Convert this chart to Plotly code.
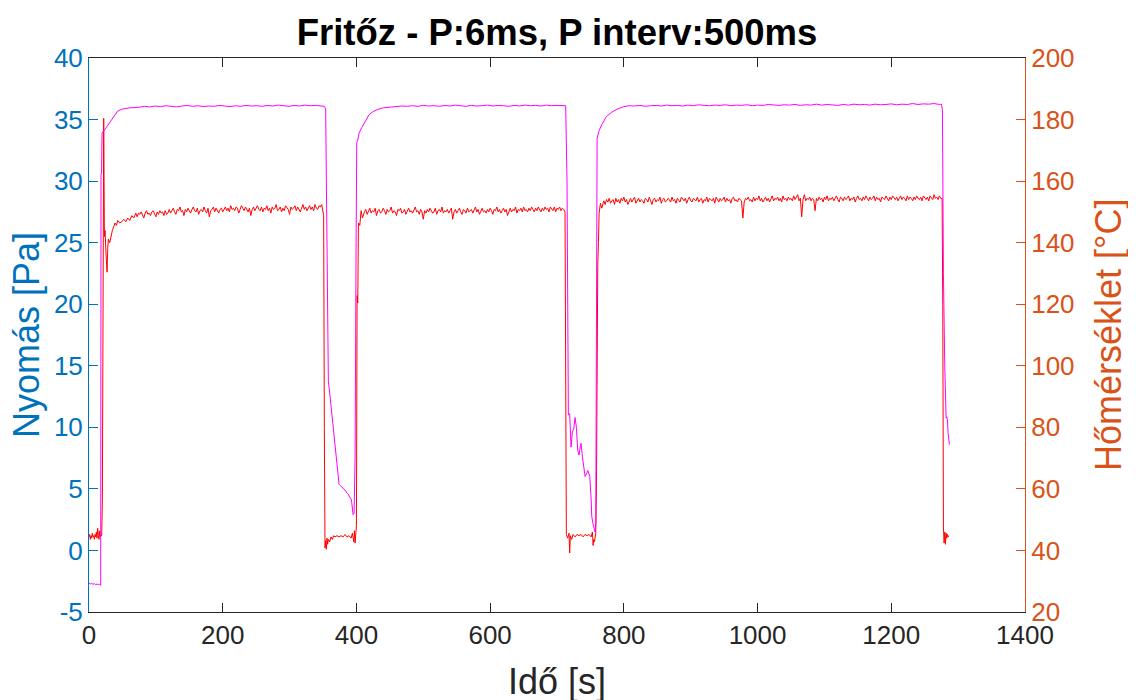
import plotly.graph_objects as go

# ---------------- data ----------------
x_ticks = [0, 200, 400, 600, 800, 1000, 1200, 1400]
y_left_ticks = [-5, 0, 5, 10, 15, 20, 25, 30, 35, 40]
y_right_ticks = [20, 40, 60, 80, 100, 120, 140, 160, 180, 200]

SAMPLE_STEP = 2  # s, spacing of the plateau readings below

# red trace, left axis: Nyomás [Pa]  (time s, value)
red_start = [(0,1.1),(1,1.3),(2,0.9),(3,1.2),(4,1.0),(5,1.4),(6,1.1),(7,1.2),(8,0.9),(9,1.3),
             (10,1.1),(11,1.5),(12,1.0),(13,1.8),(14,1.2),(15,0.9),(16,1.6),(17,1.1),(18,1.3),(19,1.2),
             (20,4.0),(21,20.0),(22,35.1),(23,25.5),(24,26.0),(25.5,24.0),(27,22.6),(28,24.5),(29,25.3),
             (31,25.0),(33,25.6),(35,26.0),(37,26.3),(39,26.6),(41,26.4),(43,26.8),(46,26.6),(49,26.7),
             (52,26.9),(55,26.7),(58,27.0),(61,26.8),(64,27.2),(67,27.0),(70,27.4)]
# plateau readings every SAMPLE_STEP s, starting at the given time
red_plateau1_t0 = 72
red_plateau1 = [27.1,27.4,27.3,27.5,27.2,27.0,27.4,27.6,27.3,27.4,27.2,27.5,27.6,27.4,27.1,27.5,27.3,27.6,27.4,27.5,
                27.2,27.6,27.3,27.4,27.7,
                27.4,27.6,27.8,27.5,27.3,27.7,27.6,27.9,27.5,27.6,27.2,27.7,27.5,27.8,27.6,27.4,27.7,27.9,27.6,27.5,
                27.8,27.3,27.6,27.7,27.5,27.9,27.6,27.4,27.8,27.1,27.6,27.7,27.9,27.5,27.8,27.6,27.4,27.7,27.8,27.5,
                27.7,27.9,27.6,27.8,27.5,28.0,27.7,27.8,27.6,27.9,27.8,27.4,27.7,28.0,27.8,27.6,27.9,27.7,27.5,27.8,
                27.2,27.7,27.9,27.6,27.8,28.0,27.7,27.6,27.9,27.5,27.8,27.7,28.0,27.6,27.8,27.4,27.9,27.7,27.8,28.1,
                27.6,27.7,27.9,27.5,27.8,27.6,28.0,27.8,27.7,27.3,27.9,27.7,27.8,28.0,27.6,27.9,27.7,27.5,27.8,28.1,
                27.7,27.9,27.6,27.8,28.0,27.7,27.9,27.6,28.1,27.8,27.7,28.0,27.9,28.1,27.5]
red_dip1 = [(351,27.2),(352,10.0),(353,0.2),(354,0.8),(355,0.1),(356,1.0),(357,0.5),(358,0.9),(360,0.7),
            (362,1.1),(364,0.9),(366,1.2),(368,1.1),(371,1.2),(374,1.1),(377,1.2),(380,1.1),(383,1.3),
            (386,1.1),(389,1.2),(392,1.0),(394,1.4),(396,0.7),(397,1.6),(398,0.6),(399,1.3),(400,2.0),
            (401,20.7),(402,20.1),(403,26.6),(405,26.4),(407,27.6),(409,27.0)]
red_plateau2_t0 = 412
red_plateau2 = [27.5,27.7,27.3,27.6,27.8,27.4,27.6,27.5,27.8,27.2,27.6,27.7,27.4,27.5,27.8,27.6,27.3,27.7,27.5,27.6,
                27.9,27.4,27.6,27.5,27.2,27.7,27.6,27.8,27.4,27.5,27.7,27.3,27.6,27.8,27.5,27.6,27.4,27.7,27.9,27.5,
                27.6,27.3,27.7,27.5,26.9,27.6,27.4,27.7,27.5,27.8,27.6,27.4,27.5,27.8,27.3,27.6,27.7,27.5,27.9,27.4,
                27.6,27.5,27.7,27.4,27.6,27.8,26.9,27.5,27.7,27.4,27.6,27.8,27.5,27.3,27.7,27.6,27.4,27.8,27.5,27.6,
                27.7,27.4,27.6,27.9,27.5,27.7,27.3,27.6,27.8,27.5,27.6,27.4,27.7,27.5,27.8,27.6,27.3,27.7,27.6,27.9,
                27.5,27.7,27.4,27.6,27.8,27.5,27.7,27.2,27.6,27.8,27.5,27.7,27.6,27.9,27.4,27.7,27.6,27.8,27.5,27.9,
                27.6,27.7,27.5,27.8,27.6,27.9,27.7,27.5,27.8,27.6,27.9,27.7,27.5,27.8,27.6,27.9,27.7,27.8,27.5,27.9,
                27.7,27.6,27.9,27.5,27.8,27.7,27.9,27.6,27.8,27.7]
red_dip2 = [(712,27.5),(713,10.0),(714,1.3),(716,1.0),(718,1.4),(719,-0.2),(720,1.2),(722,0.9),(724,1.3),
            (727,1.1),(730,1.3),(733,1.2),(736,1.3),(739,1.1),(742,1.3),(745,1.2),(748,1.3),(751,1.1),
            (753,1.5),(754,0.4),(755,0.9),(756,0.7),(757,1.1),(758,1.4),(759,5.0),(760,22.8),(761,23.2),
            (762,25.0),(763,27.4),(765,28.2),(767,27.8)]
red_plateau3_t0 = 770
red_plateau3 = [28.4,28.1,28.5,28.3,28.6,28.2,28.4,28.5,28.1,28.6, 28.3,28.5,28.2,28.6,28.4,28.7,28.3,28.5,28.1,28.4,
                28.6,28.3,28.5,28.7,28.2,28.4,28.6,28.3,28.5,28.4, 28.2,28.6,28.5,28.3,28.7,28.4,28.1,28.5,28.6,28.3,
                28.5,28.4,28.7,28.2,28.5,28.6,28.3,28.4,28.6,28.5, 28.3,28.7,28.4,28.5,28.2,28.6,28.4,28.3,28.7,28.5,
                28.4,28.6,28.2,28.5,28.7,28.4,28.3,28.6,28.5,28.4, 28.7,28.3,28.5,28.6,28.2,28.5,28.4,28.7,28.3,28.6,
                28.5,28.4,28.6,28.2,28.7,28.5,28.3,28.6,28.4,28.5, 28.7,28.3,28.6,28.4,28.5,28.2,28.6,28.7,28.4,28.5,
                28.3,28.6,28.5,28.4,27.0,28.3,28.6,28.5,28.7,28.4, 28.5,28.3,28.7,28.4,28.6,28.5,28.8,28.4,28.6,28.3,
                28.5,28.7,28.4,28.6,28.3,28.5,28.8,28.4,28.6,28.5, 28.7,28.4,28.6,28.3,28.8,28.5,28.6,28.4,28.7,28.5,
                28.6,28.4,28.8,28.5,28.7,28.9,28.4,28.6,27.1,28.5, 28.9,28.4,28.6,28.5,28.7,28.4,28.6,28.5,27.6,28.6,
                28.4,28.7,28.5,28.6,28.3,28.7,28.5,28.8,28.4,28.6, 28.5,28.7,28.4,28.6,28.8,28.5,28.3,28.7,28.6,28.4,
                28.7,28.5,28.6,28.8,28.4,28.6,28.5,28.7,28.3,28.6, 28.8,28.5,28.6,28.4,28.7,28.5,28.8,28.6,28.4,28.7,
                28.5,28.6,28.8,28.4,28.7,28.5,28.6,28.3,28.7,28.6, 28.5,28.8,28.6,28.4,28.7,28.5,28.8,28.6,28.5,28.7,
                28.4,28.6,28.8,28.5,28.7,28.6,28.4,28.8,28.5,28.7, 28.6,28.4,28.7,28.5,28.8,28.6,28.5,28.7,28.4,28.8,
                28.6,28.5,28.7,28.4,28.8,28.6,28.5,28.9,28.6,28.7, 28.5,28.8,28.6,28.6]
red_end = [(1277,20.0),(1278,1.9),(1279,0.6),(1280,1.5),(1281,0.5),(1282,1.4),(1283,1.0),(1284,1.3),
           (1285,1.1),(1286,1.2)]

# magenta trace, right axis: Hőmérséklet [°C]  (time s, value)
mag_start = [(0,29.4),(2,29.1),(4,29.3),(6,29.0),(8,29.2),(10,28.9),(12,29.1),(14,28.8),(16,29.0),
             (17.5,28.7),(18,162.0),(18.8,163.0),(19.5,175.6),(22,176.2),(24,176.8),(27,177.8),(30,178.8),
             (34,180.0),(39,181.8),(43,182.8),(50,183.4),(61,183.8)]
mag_plateau1 = [(75,184.0),(83,184.3),(91,184.1),(99,184.4),(107,184.2),(115,184.5),(123,184.3),(131,184.1),
                (139,184.4),(147,184.6),(155,184.3),(163,184.5),(171,184.2),(179,184.4),(187,184.3),(195,184.6),
                (203,184.4),(211,184.2),(219,184.5),(227,184.3),(235,184.6),(243,184.4),(251,184.5),(259,184.3),
                (267,184.6),(275,184.4),(283,184.7),(291,184.5),(299,184.3),(307,184.6),(315,184.4),(323,184.7),
                (331,184.5),(339,184.6),(347,184.4),(352,184.3)]
mag_dip1 = [(354,183.5),(356,130.0),(358,95.0),(360,91.2),(363,84.8),(365,79.0),(368,73.6),(370,68.0),
            (372,64.0),(374,61.5),(376,61.0),(378,60.6),(380,60.2),(383,59.6),(386,58.6),(388,58.2),
            (390,57.2),(392,56.8),(393,55.5),(395,51.6),(396.5,52.0),(398,70.0),(399.5,140.0),(400.5,172.5),
            (402,173.4),(404,175.6),(408,177.4),(413,179.4),(419,181.6),(425,182.6),(432,183.3),(440,183.8),
            (450,184.0)]
mag_plateau2 = [(460,184.2),(468,184.4),(476,184.3),(484,184.5),(492,184.3),(500,184.6),(508,184.4),(516,184.5),
                (524,184.3),(532,184.6),(540,184.4),(548,184.7),(556,184.5),(564,184.3),(572,184.6),(580,184.4),
                (588,184.5),(596,184.7),(604,184.4),(612,184.6),(620,184.5),(628,184.3),(636,184.6),(644,184.4),
                (652,184.7),(660,184.5),(668,184.6),(676,184.4),(684,184.7),(692,184.5),(700,184.6),(708,184.4),
                (713,184.5)]
mag_dip2 = [(715,160.0),(716.5,100.0),(717,84.0),(719,84.4),(721,73.6),(723,78.5),(725,79.5),(727,83.2),
            (729,80.0),(731,72.5),(733,71.0),(735,74.0),(736,74.8),(738,70.5),(740,66.5),(742,64.0),
            (744,64.8),(746,66.0),(748,64.8),(749,64.0),(751,57.0),(752,51.0),(754,48.5),(756,46.5),
            (757,46.0),(758,49.0),(759,120.0),(760,174.0),(763,176.4),(767,178.4),(774,181.0),(782,182.4),
            (790,183.4)]
mag_plateau3 = [(800,184.2),(808,184.5),(816,184.4),(824,184.6),(832,184.3),(840,184.5),(848,184.6),(856,184.4),
                (864,184.7),(872,184.5),(880,184.6),(888,184.4),(896,184.7),(904,184.5),(912,184.8),(920,184.6),
                (928,184.5),(936,184.7),(944,184.6),(952,184.8),(960,184.5),(968,184.7),(976,184.6),(984,184.8),
                (992,184.5),(1000,184.7),(1008,184.6),(1016,184.9),(1024,184.7),(1032,184.6),(1040,184.8),
                (1048,184.7),(1056,184.9),(1064,184.6),(1072,184.8),(1080,184.7),(1088,185.0),(1096,184.7),
                (1104,184.9),(1112,184.8),(1120,184.6),(1128,184.9),(1136,184.7),(1144,185.0),(1152,184.8),
                (1160,184.9),(1168,184.7),(1176,185.0),(1184,184.8),(1192,184.9),(1200,185.1),(1208,184.8),
                (1216,185.0),(1224,184.9),(1232,185.2),(1240,184.9),(1248,185.1),(1256,185.0),(1264,185.2),
                (1272,184.9),(1275,185.0)]
mag_end = [(1276.5,183.0),(1278,130.0),(1280,100.0),(1282,83.0),(1283,83.4),(1284,82.4),(1285,78.0),(1287,74.4)]


def plateau(t0, values):
    return [(t0 + i * SAMPLE_STEP, v) for i, v in enumerate(values)]


red_pts = (red_start + plateau(red_plateau1_t0, red_plateau1) + red_dip1
           + plateau(red_plateau2_t0, red_plateau2) + red_dip2
           + plateau(red_plateau3_t0, red_plateau3) + red_end)
mag_pts = mag_start + mag_plateau1 + mag_dip1 + mag_plateau2 + mag_dip2 + mag_plateau3 + mag_end

FONT = "Liberation Sans, Arial, Helvetica, sans-serif"
BLUE = "#0072BD"
ORANGE = "#D95319"
DARK = "#262626"

# page body has an 8px margin -> figure sized 1128x692 so it fills the 1136x700 window
W, H = 1128, 692

fig = go.Figure()
fig.add_trace(go.Scatter(x=[p[0] for p in red_pts], y=[p[1] for p in red_pts],
                         mode="lines", line=dict(color="#FF0000", width=1), yaxis="y"))
fig.add_trace(go.Scatter(x=[p[0] for p in mag_pts], y=[p[1] for p in mag_pts],
                         mode="lines", line=dict(color="#FF00FF", width=1), yaxis="y2"))

fig.update_layout(
    width=W, height=H,
    margin=dict(l=81, r=111, t=50, b=88),
    plot_bgcolor="white", paper_bgcolor="white",
    showlegend=False,
    font=dict(family=FONT),
    title=dict(text="<b>Fritőz - P:6ms, P interv:500ms</b>",
               x=0.5, xref="paper", xanchor="center",
               y=1 - 24 / H, yref="container", yanchor="middle",
               font=dict(size=36.5, color="black", family=FONT)),
    xaxis=dict(range=[0, 1400], tickvals=x_ticks, ticktext=[str(v) for v in x_ticks],
               ticks="inside", ticklen=9, tickwidth=1, tickcolor=DARK,
               showline=True, linecolor=DARK, linewidth=1, mirror="ticks",
               showgrid=False, zeroline=False,
               tickfont=dict(size=26, color=DARK, family=FONT)),
    yaxis=dict(range=[-5, 40], tickvals=y_left_ticks, ticktext=[str(v) for v in y_left_ticks],
               ticks="inside", ticklen=9, tickwidth=1, tickcolor=BLUE,
               showline=True, linecolor=BLUE, linewidth=1,
               showgrid=False, zeroline=False,
               tickfont=dict(size=26, color=BLUE, family=FONT)),
    yaxis2=dict(range=[20, 200], tickvals=y_right_ticks, ticktext=[str(v) for v in y_right_ticks],
                overlaying="y", side="right",
                ticks="inside", ticklen=9, tickwidth=1, tickcolor=ORANGE,
                showline=True, linecolor=ORANGE, linewidth=1,
                showgrid=False, zeroline=False,
                tickfont=dict(size=26, color=ORANGE, family=FONT)),
    annotations=[
        dict(text="Nyomás [Pa]", xref="paper", yref="paper", x=0, y=0.5, xshift=-63,
             xanchor="center", yanchor="middle", textangle=-90, showarrow=False,
             font=dict(size=36, color=BLUE, family=FONT)),
        dict(text="Hőmérséklet [°C]", xref="paper", yref="paper", x=1, y=0.5, xshift=83,
             xanchor="center", yanchor="middle", textangle=-90, showarrow=False,
             font=dict(size=36, color=ORANGE, family=FONT)),
        dict(text="Idő [s]", xref="paper", yref="paper", x=0.5, y=0, yshift=-69,
             xanchor="center", yanchor="middle", showarrow=False,
             font=dict(size=36, color=DARK, family=FONT)),
    ],
)

fig.write_html("out.html")
